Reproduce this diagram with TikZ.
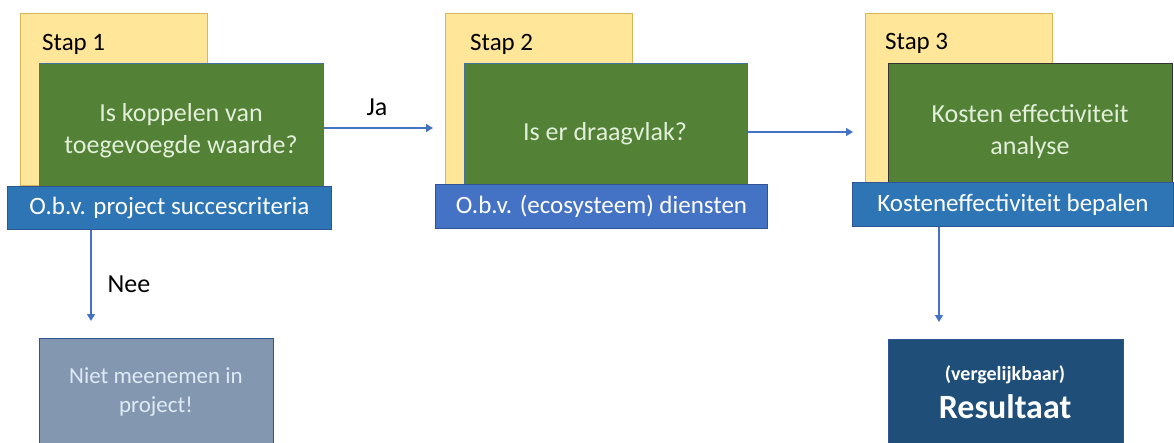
\documentclass[tikz,border=0pt]{standalone}
\usepackage{fontspec}
\setmainfont{Carlito}
\usetikzlibrary{arrows.meta}
\definecolor{yel}{HTML}{FFE699}
\definecolor{yelb}{HTML}{D6B656}
\definecolor{grn}{HTML}{538135}
\definecolor{grnb}{HTML}{41719C}
\definecolor{blu}{HTML}{2E75B6}
\definecolor{blu2}{HTML}{4472C4}
\definecolor{blub}{HTML}{2F5597}
\definecolor{arrc}{HTML}{4472C4}
\definecolor{greybox}{HTML}{8497B0}
\definecolor{darkbox}{HTML}{1F4E79}
\definecolor{txtg}{HTML}{E2EFDA}
\definecolor{txtl}{HTML}{DEEBF7}
\tikzset{
  yelbox/.style={draw=yelb, fill=yel, line width=0.9pt, anchor=north west, inner sep=0pt},
  grnbox/.style={draw=grnb, fill=grn, line width=0.9pt, anchor=north west, inner sep=0pt},
  blubox/.style={draw=blub, fill=blu, line width=0.9pt, anchor=north west, inner sep=0pt, text=white, font=\fontsize{25}{30}\selectfont},
  steplabel/.style={anchor=west, inner sep=0pt, font=\fontsize{25}{30}\selectfont},
  grntext/.style={align=center, text=txtg, inner sep=0pt, font=\fontsize{26}{32}\selectfont},
  arr/.style={draw=arrc, line width=1.3pt, -{Triangle[length=7pt,width=8pt]}},
  lbl/.style={inner sep=0pt, font=\fontsize{26}{30}\selectfont}
}
\begin{document}
\begin{tikzpicture}[x=1pt,y=-1pt]
\useasboundingbox (0,0) rectangle (1174,442);
% Step 1
\node[yelbox, minimum width=187pt, minimum height=172pt] (y1) at (20,13) {};
\node[steplabel] (s1) at (42,44) {Stap 1};
\node[grnbox, minimum width=284pt, minimum height=137pt] (g1) at (39,63) {};
\node[grntext] (t1) at (181,131) {Is koppelen van\\toegevoegde waarde?};
\node[blubox, minimum width=324pt, minimum height=43pt] (b1) at (7,186) {O.b.v. project succescriteria};
% Step 2
\node[yelbox, minimum width=187pt, minimum height=171pt] (y2) at (445,13) {};
\node[steplabel] (s2) at (470,44) {Stap 2};
\node[grnbox, minimum width=283pt, minimum height=137pt] (g2) at (464,63) {};
\node[grntext] (t2) at (605,134) {Is er draagvlak?};
\node[blubox, fill=blu2, minimum width=332pt, minimum height=44pt] (b2) at (435,184) {O.b.v. (ecosysteem) diensten};
% Step 3
\node[yelbox, minimum width=187pt, minimum height=169pt] (y3) at (865,13) {};
\node[steplabel] (s3) at (885,43) {Stap 3};
\node[grnbox, draw=black!80, minimum width=284pt, minimum height=137pt] (g3) at (888,63) {};
\node[grntext] (t3) at (1030,132) {Kosten effectiviteit\\analyse};
\node[blubox, minimum width=321pt, minimum height=44pt] (b3) at (852,182) {Kosteneffectiviteit bepalen};
% bottom boxes
\node[draw=blub, fill=greybox, line width=0.9pt, anchor=north west, minimum width=234pt, minimum height=120pt, inner sep=0pt] (nm) at (39,338) {};
\node[align=center, text=txtl, inner sep=0pt, font=\fontsize{23}{29}\selectfont] (nmt) at (156,392) {Niet meenemen in\\project!};
\node[draw=blub, fill=darkbox, line width=0.9pt, anchor=north west, minimum width=235pt, minimum height=120pt, inner sep=0pt] (res) at (888,339) {};
\node[text=white, inner sep=0pt, font=\bfseries\fontsize{20}{24}\selectfont] (rs1) at (1005,375) {(vergelijkbaar)};
\node[text=white, inner sep=0pt, font=\bfseries\fontsize{34}{40}\selectfont] (rs2) at (1005,407) {Resultaat};
% connectors
\coordinate (ja) at (433,128);
\coordinate (c2) at (853,132);
\coordinate (nee) at (91,321);
\coordinate (r3) at (939,322);
\draw[arr] (g1.east |- ja) -- (ja);
\draw[arr] (g2.east |- c2) -- (c2);
\draw[arr] (b1.south -| nee) -- (nee);
\draw[arr] (b3.south -| r3) -- (r3);
\node[lbl] (jal) at (377,107) {Ja};
\node[lbl] (neel) at (129,284) {Nee};
\end{tikzpicture}
\end{document}
